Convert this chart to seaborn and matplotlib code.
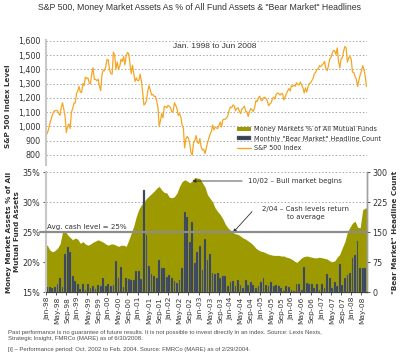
import numpy as np
import matplotlib
matplotlib.use("Agg")
import matplotlib.pyplot as plt
import seaborn as sns
from matplotlib.patches import Patch
from matplotlib.lines import Line2D
from matplotlib.ticker import FuncFormatter
from matplotlib.transforms import blended_transform_factory

# months Jan-98 .. Jun-08 (126 slots)
months = np.arange(126)

month_labels = ["Jan-98", "May-98", "Sep-98", "Jan-99", "May-99", "Sep-99",
                "Jan-00", "May-00", "Sep-00", "Jan-01", "May-01", "Sep-01",
                "Jan-02", "May-02", "Sep-02", "Jan-03", "May-03", "Sep-03",
                "Jan-04", "May-04", "Sep-04", "Jan-05", "May-05", "Sep-05",
                "Jan-06", "May-06", "Sep-06", "Jan-07", "May-07", "Sep-07",
                "Jan-08", "May-08"]

# S&P 500 level: value at mid-month and at month end
sp_start = 970
sp_mid = [
    950, 1020, 1080, 1110, 1110, 1078, 1165, 1070, 1000, 985, 1125, 1165,
    1250, 1240, 1300, 1345, 1340, 1300, 1410, 1330, 1330, 1250, 1395, 1420,
    1465, 1370, 1520, 1400, 1400, 1470, 1490, 1490, 1510, 1370, 1370, 1340,
    1320, 1320, 1150, 1180, 1285, 1220, 1210, 1180, 1000, 1090, 1140, 1130,
    1140, 1100, 1165, 1125, 1090, 1010, 850, 930, 880, 800, 900, 890,
    915, 835, 810, 885, 945, 1010, 995, 985, 1030, 1045, 1050, 1075,
    1135, 1150, 1110, 1130, 1090, 1130, 1105, 1070, 1125, 1105, 1180, 1200,
    1185, 1200, 1195, 1145, 1165, 1205, 1225, 1230, 1230, 1185, 1230, 1265,
    1285, 1290, 1305, 1290, 1290, 1235, 1240, 1300, 1320, 1370, 1400, 1425,
    1430, 1455, 1390, 1470, 1510, 1530, 1550, 1410, 1480, 1560, 1450, 1490,
    1380, 1350, 1280, 1360, 1425, 1350,
]
sp_close = [
    980, 1049, 1102, 1112, 1091, 1134, 1121, 957, 1017, 1099, 1164, 1229,
    1280, 1238, 1286, 1335, 1302, 1373, 1329, 1320, 1283, 1363, 1389, 1469,
    1394, 1366, 1499, 1452, 1421, 1455, 1431, 1518, 1437, 1429, 1315, 1320,
    1366, 1240, 1160, 1249, 1256, 1224, 1211, 1134, 1041, 1060, 1139, 1148,
    1130, 1107, 1147, 1077, 1067, 990, 912, 916, 815, 886, 936, 880,
    856, 841, 848, 917, 964, 975, 990, 1008, 996, 1051, 1058, 1112,
    1131, 1145, 1126, 1107, 1121, 1141, 1102, 1104, 1115, 1130, 1174, 1212,
    1181, 1204, 1181, 1157, 1192, 1191, 1234, 1220, 1229, 1207, 1249, 1248,
    1280, 1281, 1295, 1311, 1270, 1270, 1277, 1304, 1336, 1378, 1401, 1418,
    1438, 1407, 1421, 1482, 1531, 1503, 1455, 1474, 1527, 1549, 1481, 1468,
    1379, 1331, 1323, 1386, 1400, 1280,
]

# money market assets as % of all mutual fund assets
mm_pct = [
    22.8, 22.0, 21.7, 21.9, 22.3, 23.0, 25.0, 25.2, 24.5, 24.1, 23.7, 24.0,
    23.8, 23.1, 23.4, 23.0, 22.8, 23.0, 23.3, 23.5, 23.7, 23.5, 23.3, 23.0,
    22.8, 23.0, 23.0, 22.8, 22.6, 22.8, 22.8, 22.6, 23.6, 24.8, 26.0, 27.6,
    28.8, 29.5, 30.0, 30.6, 31.0, 31.4, 31.8, 32.3, 32.6, 32.0, 31.6, 31.5,
    30.8, 30.7, 30.9, 31.5, 32.6, 33.4, 33.7, 33.5, 33.2, 33.5, 34.1, 34.0,
    33.9, 33.2, 32.5, 31.2, 30.6, 30.0, 29.0, 28.4, 27.9, 27.2, 26.3, 25.7,
    25.3, 24.9, 24.7, 24.6, 24.3, 24.0, 23.8, 23.5, 23.2, 22.8, 22.3, 22.0,
    21.8, 21.7, 21.5, 21.3, 21.2, 21.1, 21.1, 21.1, 21.0, 21.0, 20.8, 20.7,
    20.5, 20.2, 19.9, 20.3, 20.7, 20.9, 21.0, 20.9, 20.8, 20.7, 20.7, 20.8,
    20.7, 20.6, 20.5, 20.2, 20.0, 20.2, 20.8, 21.3, 22.4, 23.4, 25.0, 25.8,
    26.5, 26.8, 25.8, 25.7, 28.7, 29.0,
]

# monthly "bear market" headline count
headlines = [
    13, 12, 11, 12, 20, 35, 12, 95, 112, 100, 40, 28,
    20, 8, 20, 6, 20, 11, 14, 8, 18, 14, 34, 14,
    20, 14, 18, 77, 35, 63, 12, 34, 33, 31, 29, 52,
    52, 33, 255, 142, 64, 45, 40, 34, 80, 60, 60, 38,
    43, 36, 28, 22, 31, 60, 201, 188, 126, 176, 72, 101,
    115, 55, 132, 81, 95, 47, 45, 47, 35, 40, 40, 14,
    26, 28, 14, 30, 18, 10, 30, 18, 26, 18, 10, 14,
    26, 36, 18, 14, 26, 14, 18, 14, 10, 3, 14, 12,
    6, 3, 21, 19, 6, 62, 23, 19, 19, 10, 20, 6,
    19, 10, 45, 35, 10, 26, 14, 70, 18, 35, 42, 47,
    85, 93, 127, 60, 60, 60,
]

avg_cash = 25

OLIVE = "#9C9A00"
BAR = "#364254"
ORANGE = "#F5A623"
TXT = "#333333"
GRID = "#A8A8A8"

sns.set_theme(style="white")
plt.rcParams["font.family"] = ["DejaVu Sans"]

fig = plt.figure(figsize=(4.0, 3.56), dpi=100)
ax_sp = fig.add_axes([46 / 400, 1 - 165 / 356, 320.5 / 400, 125 / 356])
ax_mm = fig.add_axes([46 / 400, 1 - 292 / 356, 320.5 / 400, 120 / 356])
ax_hl = ax_mm.twinx()

# ---- top panel: S&P 500
sp_pos = np.r_[-0.5, np.column_stack([months, months + 0.5]).ravel()]
sp_val = np.r_[sp_start, np.column_stack([sp_mid, sp_close]).ravel()]
sns.lineplot(x=sp_pos, y=sp_val, ax=ax_sp, color=ORANGE, lw=0.9,
             estimator=None, sort=False)
ax_sp.set_xlim(-0.5, 125.5)
ax_sp.set_ylim(730, 1605)
ax_sp.set_yticks(np.arange(800, 1601, 100))
ax_sp.yaxis.set_major_formatter(FuncFormatter(lambda v, p: f"{v:,.0f}"))
ax_sp.set_xticks([])
ax_sp.set_axisbelow(True)
ax_sp.grid(axis="y", linestyle=(0, (1.5, 2)), color=GRID, lw=0.7)
for s in ["top", "right", "bottom"]:
    ax_sp.spines[s].set_visible(False)
ax_sp.spines["left"].set_color("#C8C8C8")
ax_sp.spines["left"].set_linewidth(1.5)
ax_sp.tick_params(axis="y", labelsize=5.8, colors=TXT, length=2, pad=2, width=0.6)
ax_sp.set_ylabel("S&P 500 Index Level", fontsize=5.2, fontweight="bold", color=TXT)
ax_sp.yaxis.set_label_coords(-0.108, 0.47)
ax_sp.text(0.527, 0.944, "Jan. 1998 to Jun 2008", transform=ax_sp.transAxes,
           ha="center", va="center", fontsize=6, color=TXT,
           family=["Liberation Sans", "DejaVu Sans"])

# ---- bottom panel: money market % (area) and headline counts (bars)
x_fill = np.r_[-0.5, months, 125.5]
y_fill = np.r_[mm_pct[0], mm_pct, mm_pct[-1]]
ax_mm.fill_between(x_fill, 15, y_fill, color=OLIVE, lw=0, zorder=1)
ax_mm.set_ylim(15, 35)
ax_mm.set_yticks(np.arange(15, 36, 5))
ax_mm.yaxis.set_major_formatter(FuncFormatter(lambda v, p: f"{v:.0f}%"))
ax_mm.set_axisbelow(True)
ax_mm.grid(axis="y", linestyle=(0, (1.5, 2)), color=GRID, lw=0.7)

sns.barplot(x=months, y=headlines, ax=ax_hl, color=BAR, width=0.7,
            saturation=1, edgecolor="#6E7886", linewidth=0.2)
ax_hl.set_ylim(0, 300)
ax_hl.set_yticks(np.arange(0, 301, 75))
ax_hl.set_ylabel('"Bear Market" Headline Count', fontsize=5.2,
                 fontweight="bold", color=TXT, rotation=90)
ax_hl.yaxis.set_label_coords(1.079, 0.5)
ax_hl.set_xlabel("")

ax_mm.set_xlim(-0.5, 125.5)
ax_mm.set_xticks(months[::4])
ax_mm.set_xticklabels(month_labels, rotation=90)
ax_mm.set_xticks(months[::4] - 0.5, minor=True)
ax_mm.tick_params(axis="x", which="major", length=0, pad=3.5, labelsize=5.3, colors=TXT)
ax_mm.tick_params(axis="x", which="minor", length=2.5, width=0.6, color="#404040", bottom=True)
ax_mm.tick_params(axis="y", labelsize=5.8, colors=TXT, length=2, pad=2, width=0.6)
ax_hl.tick_params(axis="y", labelsize=5.8, colors=TXT, length=2, pad=2, width=0.6)

for a in (ax_mm, ax_hl):
    a.spines["top"].set_visible(False)
    a.spines["left"].set_color("#C8C8C8")
    a.spines["left"].set_linewidth(1.5)
    a.spines["right"].set_color("#A0A0A0")
    a.spines["right"].set_linewidth(1.0)
    a.spines["bottom"].set_color("#404040")
    a.spines["bottom"].set_linewidth(0.8)

ax_mm.set_ylabel("Money Market Assets % of All\nMutual Fund Assets", fontsize=5.2,
                 fontweight="bold", color=TXT, linespacing=1.25)
ax_mm.yaxis.set_label_coords(-0.082, 0.5)

# average cash line, drawn above the bars
ax_hl.plot([-0.019, 1.0], [avg_cash, avg_cash],
           transform=blended_transform_factory(ax_hl.transAxes, ax_mm.transData),
           color="#8C8C8C", lw=1.6, clip_on=False, zorder=5)
ax_hl.text(0.0, avg_cash + 0.25, f"Avg. cash level = {avg_cash}%",
           transform=blended_transform_factory(ax_hl.transData, ax_mm.transData),
           fontsize=5.1, color=TXT, ha="left", va="bottom", zorder=6)

arrow = dict(arrowstyle="-|>", color="#333333", lw=0.6, mutation_scale=5,
             shrinkA=2, shrinkB=0)
ax_mm.annotate("10/02 \u2013 Bull market begins", xy=(57, mm_pct[57]),
               xytext=(79, mm_pct[57]), fontsize=5, color=TXT,
               ha="left", va="center", arrowprops=arrow, zorder=6)
ax_mm.annotate("", xy=(73, mm_pct[73]), xytext=(80.5, 28.4),
               arrowprops=dict(arrowstyle="-|>", color="#333333", lw=0.6,
                               mutation_scale=5, shrinkA=0, shrinkB=0))
ax_mm.text(101.5, 28.2, "2/04 \u2013 Cash levels return\nto average", fontsize=5,
           color=TXT, ha="center", va="center", linespacing=1.35)

# ---- legend
handles = [
    Patch(facecolor=OLIVE, edgecolor="none"),
    Patch(facecolor=BAR, edgecolor="#6E7886", linewidth=0.3),
    Line2D([0], [0], color=ORANGE, lw=1.0),
]
labels = ["Money Markets % of All Mutual Funds",
          'Monthly "Bear Market" Headline Count',
          "S&P 500 Index"]
fig.legend(handles, labels, loc="upper left", bbox_to_anchor=(237 / 400, 1 - 126 / 356),
           frameon=False, fontsize=4.7, handlelength=2.2, handleheight=0.62,
           handletextpad=0.45, labelspacing=0.55, borderpad=0, borderaxespad=0,
           labelcolor=TXT)

# ---- title and footnotes
fig.text(0.5, 1 - 7 / 356,
         'S&P 500, Money Market Assets As % of All Fund Assets & "Bear Market" Headlines',
         ha="center", va="center", fontsize=6.3, color=TXT,
         family=["Liberation Sans", "DejaVu Sans"])
foot = ("Past performance is no guarantee of future results. It is not possible to invest "
        "directly in an index. Source: Lexis Nexis,\nStrategic Insight, FMRCo (MARE) as of 6/30/2008.")
fig.text(8 / 400, 1 - 330 / 356, foot, ha="left", va="top", fontsize=4.3,
         color="#4D4D4D", linespacing=1.3, family=["Liberation Sans", "DejaVu Sans"])
fig.text(8 / 400, 1 - 349.5 / 356,
         "[i] \u2013 Performance period: Oct. 2002 to Feb. 2004. Source: FMRCo (MARE) as of 2/29/2004.",
         ha="left", va="center", fontsize=4.3, color="#4D4D4D",
         family=["Liberation Sans", "DejaVu Sans"])

fig.savefig("out.png", dpi=100)
